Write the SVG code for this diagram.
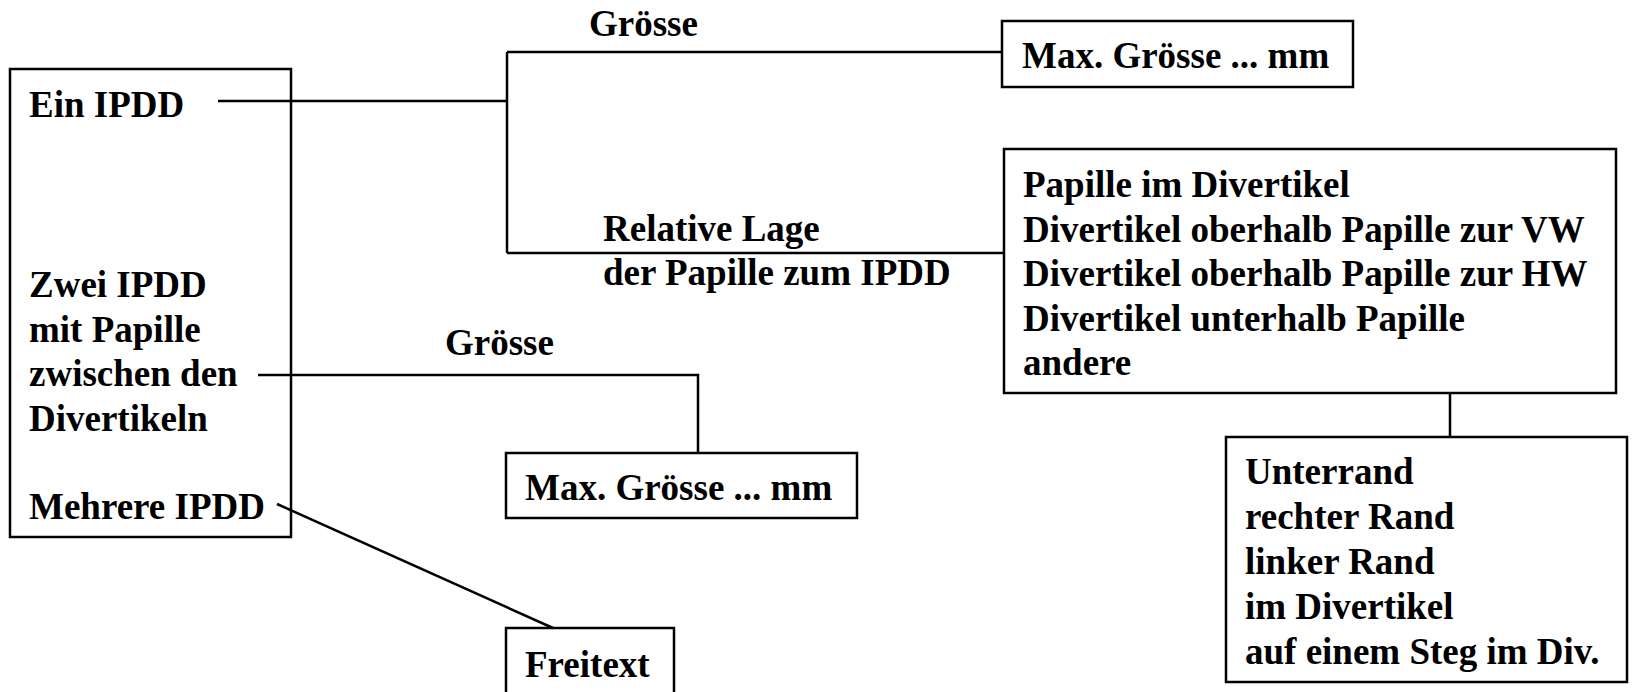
<svg xmlns="http://www.w3.org/2000/svg" width="1632" height="692" viewBox="0 0 1632 692">
  <style>
    .box { fill: none; stroke: #000000; stroke-width: 2.5; }
    .ln { fill: none; stroke: #000000; stroke-width: 2.5; }
    text { font-family: "Liberation Serif", "Times New Roman", serif; font-weight: bold; font-size: 37px; fill: #000000; }
  </style>
  <rect width="1632" height="692" fill="#ffffff"/>

  <!-- connectors -->
  <g id="connectors">
    <polyline class="ln" points="218,101 507,101"/>
    <polyline class="ln" points="507,52 507,253"/>
    <polyline class="ln" points="507,52 1002,52"/>
    <polyline class="ln" points="507,253 1004,253"/>
    <polyline class="ln" points="258,375 698,375 698,453"/>
    <polyline class="ln" points="277,504 553,628"/>
    <polyline class="ln" points="1450,393 1450,437"/>
  </g>

  <!-- edge labels -->
  <g id="labels">
    <text x="589" y="36">Grösse</text>
    <text x="603" y="241">Relative Lage</text>
    <text x="603" y="285">der Papille zum IPDD</text>
    <text x="445" y="355">Grösse</text>
  </g>

  <g id="node-ipdd">
    <rect class="box" x="10" y="69" width="281" height="468"/>
    <text x="29" y="117">Ein IPDD</text>
    <text x="29" y="297">Zwei IPDD</text>
    <text x="29" y="341.5">mit Papille</text>
    <text x="29" y="386">zwischen den</text>
    <text x="29" y="430.5">Divertikeln</text>
    <text x="29" y="519">Mehrere IPDD</text>
  </g>

  <g id="node-max-groesse-1">
    <rect class="box" x="1002" y="21" width="351" height="66"/>
    <text x="1022" y="68">Max. Grösse ... mm</text>
  </g>

  <g id="node-lage">
    <rect class="box" x="1004" y="149" width="612" height="244"/>
    <text x="1023" y="197">Papille im Divertikel</text>
    <text x="1023" y="241.5">Divertikel oberhalb Papille zur VW</text>
    <text x="1023" y="286">Divertikel oberhalb Papille zur HW</text>
    <text x="1023" y="330.5">Divertikel unterhalb Papille</text>
    <text x="1023" y="375">andere</text>
  </g>

  <g id="node-rand">
    <rect class="box" x="1226" y="437" width="401" height="245"/>
    <text x="1245" y="484">Unterrand</text>
    <text x="1245" y="529">rechter Rand</text>
    <text x="1245" y="574">linker Rand</text>
    <text x="1245" y="619">im Divertikel</text>
    <text x="1245" y="664">auf einem Steg im Div.</text>
  </g>

  <g id="node-max-groesse-2">
    <rect class="box" x="506" y="453" width="351" height="65"/>
    <text x="525" y="500">Max. Grösse ... mm</text>
  </g>

  <g id="node-freitext">
    <rect class="box" x="506" y="628" width="168" height="80"/>
    <text x="525" y="677">Freitext</text>
  </g>
</svg>
